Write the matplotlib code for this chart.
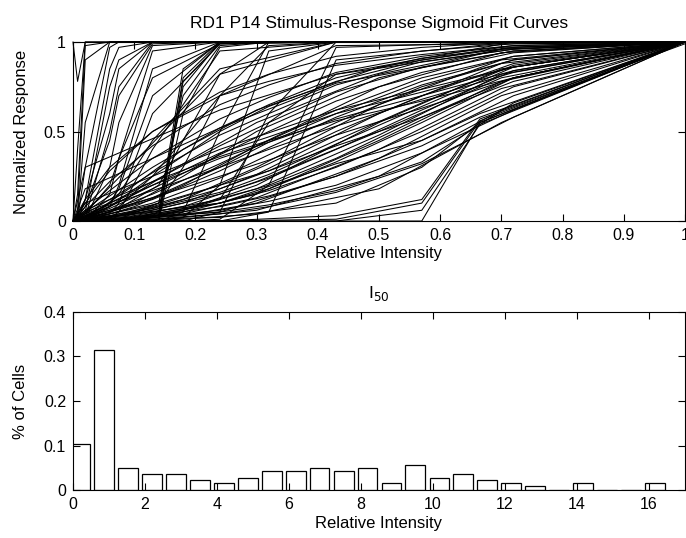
import matplotlib
matplotlib.use("Agg")
import matplotlib.pyplot as plt

plt.rcParams["font.family"] = ["Liberation Sans", "DejaVu Sans"]
plt.rcParams["font.size"] = 12

# ---- top panel: sigmoid fits evaluated at each cell's stimulus intensities ----
early_x = [0, 0.0075, 0.02, 0.06, 0.075, 0.13, 0.24, 0.43, 1.0]
early_y = [
    [1.0, 0.78, 1, 1, 1, 1, 1, 1, 1],
    [0, 0.4, 1, 1, 1, 1, 1, 1, 1],
    [0, 0.15, 0.98, 1, 1, 1, 1, 1, 1],
    [0, 0.05, 0.9, 1, 1, 1, 1, 1, 1],
    [0, 0.02, 0.55, 1, 1, 1, 1, 1, 1],
    [0, 0.01, 0.3, 0.97, 1, 1, 1, 1, 1],
    [0, 0.0, 0.12, 0.85, 0.97, 1, 1, 1, 1],
    [0, 0.0, 0.05, 0.75, 0.9, 1, 1, 1, 1],
    [0, 0.0, 0.02, 0.5, 0.75, 1, 1, 1, 1],
    [0, 0, 0.01, 0.3, 0.55, 0.98, 1, 1, 1],
    [0, 0, 0.0, 0.15, 0.35, 0.95, 1, 1, 1],
    [0, 0, 0, 0.08, 0.2, 0.85, 1, 1, 1],
    [0, 0, 0, 0.04, 0.1, 0.6, 0.99, 1, 1],
    [0, 0, 0, 0.02, 0.05, 0.4, 0.95, 1, 1],
    [0, 0, 0.0, 0.1, 0.18, 0.7, 1, 1, 1],
    [0, 0.02, 0.08, 0.45, 0.7, 0.99, 1, 1, 1],
    [0, 0.01, 0.04, 0.2, 0.35, 0.8, 0.99, 1, 1],
    [0, 0, 0.02, 0.1, 0.15, 0.45, 0.85, 1, 1],
    [0, 0, 0.01, 0.05, 0.08, 0.25, 0.7, 0.98, 1],
    [0, 0.03, 0.12, 0.6, 0.85, 1, 1, 1, 1],
]

mid_x = [0, 0.03, 0.075, 0.14, 0.18, 0.24, 0.32, 0.43, 0.72, 1.0]
mid_y = [
    [0, 0, 0, 0.0, 0.75, 1, 1, 1, 1, 1],
    [0, 0, 0, 0.02, 0.8, 1, 1, 1, 1, 1],
    [0, 0, 0, 0.05, 0.85, 1, 1, 1, 1, 1],
    [0, 0, 0.01, 0.1, 0.7, 0.98, 1, 1, 1, 1],
    [0, 0, 0, 0.0, 0.6, 0.97, 1, 1, 1, 1],
    [0, 0, 0, 0.03, 0.78, 0.99, 1, 1, 1, 1],
    [0, 0, 0, 0, 0.05, 0.5, 1, 1, 1, 1],
    [0, 0, 0, 0, 0.02, 0.2, 0.95, 1, 1, 1],
    [0, 0, 0, 0, 0, 0.05, 0.6, 1, 1, 1],
    [0, 0, 0, 0, 0, 0.01, 0.2, 0.97, 1, 1],
    [0, 0, 0, 0, 0, 0, 0.05, 0.9, 1, 1],
    [0, 0.0, 0.01, 0.03, 0.06, 0.12, 0.55, 0.82, 1, 1],
    [0, 0.02, 0.07, 0.2, 0.45, 0.82, 1, 1, 1, 1],
    [0, 0.01, 0.03, 0.1, 0.3, 0.7, 0.98, 1, 1, 1],
]

slow_x = [0, 0.02, 0.06, 0.13, 0.24, 0.32, 0.43, 0.57, 0.72, 1.0]
slow_y = [
    [0, 0.01, 0.03, 0.08, 0.2, 0.32, 0.5, 0.7, 0.88, 1.0],
    [0, 0.02, 0.06, 0.15, 0.32, 0.45, 0.62, 0.8, 0.92, 1.0],
    [0, 0.0, 0.02, 0.05, 0.12, 0.2, 0.35, 0.58, 0.8, 1.0],
    [0, 0.0, 0.01, 0.03, 0.08, 0.14, 0.25, 0.45, 0.7, 1.0],
    [0, 0.03, 0.1, 0.22, 0.42, 0.55, 0.72, 0.86, 0.95, 1.0],
    [0, 0.05, 0.14, 0.3, 0.52, 0.65, 0.8, 0.91, 0.97, 1.0],
    [0, 0.01, 0.04, 0.1, 0.24, 0.37, 0.55, 0.75, 0.9, 1.0],
    [0, 0.0, 0.0, 0.02, 0.06, 0.11, 0.2, 0.38, 0.62, 1.0],
    [0, 0.02, 0.05, 0.12, 0.28, 0.41, 0.58, 0.76, 0.9, 1.0],
    [0, 0.04, 0.12, 0.27, 0.48, 0.6, 0.76, 0.89, 0.96, 1.0],
    [0, 0.0, 0.01, 0.04, 0.1, 0.17, 0.3, 0.5, 0.75, 1.0],
    [0, 0.08, 0.22, 0.42, 0.65, 0.76, 0.88, 0.95, 0.99, 1.0],
    [0, 0.1, 0.28, 0.5, 0.72, 0.82, 0.92, 0.97, 1.0, 1.0],
    [0, 0.06, 0.17, 0.35, 0.57, 0.69, 0.83, 0.92, 0.98, 1.0],
    [0, 0.01, 0.02, 0.06, 0.15, 0.24, 0.4, 0.62, 0.84, 1.0],
    [0, 0.0, 0.01, 0.02, 0.05, 0.09, 0.17, 0.33, 0.66, 1.0],
    [0, 0.02, 0.07, 0.18, 0.37, 0.5, 0.67, 0.83, 0.94, 1.0],
    [0, 0.01, 0.05, 0.13, 0.3, 0.44, 0.6, 0.78, 0.92, 1.0],
    [0, 0.03, 0.08, 0.2, 0.38, 0.47, 0.6, 0.72, 0.86, 1.0],
    [0, 0.0, 0.02, 0.07, 0.18, 0.28, 0.45, 0.66, 0.87, 1.0],
    [0, 0.12, 0.3, 0.5, 0.7, 0.78, 0.87, 0.93, 0.98, 1.0],
    [0, 0.02, 0.04, 0.09, 0.2, 0.28, 0.42, 0.58, 0.78, 1.0],
    [0, 0.0, 0.01, 0.03, 0.1, 0.18, 0.33, 0.55, 0.8, 1.0],
    [0, 0.05, 0.1, 0.2, 0.35, 0.44, 0.57, 0.7, 0.84, 1.0],
    [0, 0.01, 0.03, 0.07, 0.16, 0.26, 0.43, 0.64, 0.86, 1.0],
    [0, 0.04, 0.09, 0.17, 0.3, 0.4, 0.53, 0.68, 0.83, 1.0],
    [0, 0.02, 0.08, 0.25, 0.5, 0.64, 0.78, 0.9, 0.97, 1.0],
    [0, 0.0, 0.0, 0.01, 0.04, 0.08, 0.16, 0.32, 0.58, 1.0],
    [0, 0.06, 0.12, 0.22, 0.36, 0.45, 0.56, 0.67, 0.8, 1.0],
    [0, 0.03, 0.06, 0.13, 0.25, 0.34, 0.48, 0.63, 0.8, 1.0],
]

slow2_x = [0, 0.04, 0.1, 0.18, 0.3, 0.5, 0.7, 1.0]
slow2_y = [
    [0, 0.0, 0.02, 0.06, 0.2, 0.55, 0.85, 1],
    [0, 0.01, 0.05, 0.12, 0.3, 0.65, 0.9, 1],
    [0, 0.0, 0.01, 0.03, 0.1, 0.35, 0.7, 1],
    [0, 0.02, 0.08, 0.2, 0.42, 0.75, 0.94, 1],
    [0, 0.0, 0.0, 0.02, 0.06, 0.25, 0.62, 1],
    [0, 0.03, 0.1, 0.25, 0.5, 0.8, 0.96, 1],
    [0, 0.01, 0.03, 0.08, 0.22, 0.5, 0.8, 1],
    [0, 0.0, 0.01, 0.05, 0.15, 0.45, 0.78, 1],
    [0, 0.05, 0.15, 0.32, 0.55, 0.82, 0.96, 1],
    [0, 0.0, 0.02, 0.04, 0.13, 0.4, 0.74, 1],
    [0, 0.02, 0.04, 0.1, 0.26, 0.6, 0.88, 1],
    [0, 0.0, 0.0, 0.01, 0.04, 0.18, 0.55, 1],
    [0, 0.06, 0.2, 0.4, 0.62, 0.86, 0.97, 1],
    [0, 0.01, 0.02, 0.07, 0.18, 0.48, 0.82, 1],
]

late_x = [0, 0.24, 0.43, 0.57, 0.665, 1.0]
late_y = [
    [0, 0, 0.0, 0.0, 0.55, 1.0],
    [0, 0, 0.01, 0.1, 0.56, 1.0],
    [0, 0, 0.03, 0.12, 0.57, 0.99],
    [0, 0.02, 0.1, 0.3, 0.55, 1.0],
    [0, 0.05, 0.25, 0.42, 0.58, 1.0],
    [0, 0, 0.0, 0.06, 0.54, 1.0],
    [0, 0.1, 0.32, 0.45, 0.6, 1.0],
]

sparse_x = [0, 0.02, 0.24, 0.43, 0.72, 1.0]
sparse_y = [
    [0, 0.18, 0.52, 0.77, 0.95, 1],
    [0, 0.1, 0.4, 0.62, 0.86, 1],
    [0, 0.3, 0.62, 0.82, 0.96, 1],
    [0, 0.05, 0.82, 1, 1, 1],
]

# ---- bottom panel: I50 histogram ----
i50_centers = [0.2, 0.87, 1.53, 2.2, 2.86, 3.53, 4.19, 4.86, 5.52, 6.19, 6.85,
               7.52, 8.18, 8.85, 9.51, 10.18, 10.84, 11.51, 12.17, 12.84, 13.5,
               14.17, 14.83, 15.5, 16.16]
i50_frac = [0.104, 0.314, 0.049, 0.037, 0.037, 0.022, 0.016, 0.028, 0.043, 0.043,
            0.049, 0.043, 0.049, 0.016, 0.056, 0.028, 0.037, 0.022, 0.016, 0.009,
            0.0, 0.016, 0.0, 0.0, 0.016]


def style_axes(ax):
    ax.tick_params(direction="in", top=True, right=True, length=5, width=0.8,
                   labelsize=11.5, pad=5)
    for spine in ax.spines.values():
        spine.set_linewidth(0.8)


fig = plt.figure(figsize=(6.86, 5.38), dpi=100)

ax1 = fig.add_axes([0.1064, 0.5892, 0.892, 0.3327])
for xs, group in [(early_x, early_y), (mid_x, mid_y), (slow_x, slow_y),
                  (slow2_x, slow2_y), (late_x, late_y), (sparse_x, sparse_y)]:
    for ys in group:
        ax1.plot(xs, ys, "-", color="black", lw=0.75, clip_on=False)
ax1.set_xlim(0, 1)
ax1.set_ylim(0, 1)
ax1.set_xticks([0, 0.1, 0.2, 0.3, 0.4, 0.5, 0.6, 0.7, 0.8, 0.9, 1])
ax1.set_xticklabels(["0", "0.1", "0.2", "0.3", "0.4", "0.5", "0.6", "0.7", "0.8", "0.9", "1"])
ax1.set_yticks([0, 0.5, 1])
ax1.set_yticklabels(["0", "0.5", "1"])
ax1.set_xlabel("Relative Intensity", labelpad=2)
ax1.set_ylabel("Normalized Response", labelpad=11)
ax1.set_title("RD1 P14 Stimulus-Response Sigmoid Fit Curves", fontsize=12.5, pad=10)
style_axes(ax1)

ax2 = fig.add_axes([0.1064, 0.0892, 0.892, 0.3309])
ax2.bar(i50_centers, i50_frac, width=0.55, facecolor="white", edgecolor="black", lw=0.9)
ax2.set_xlim(0, 17)
ax2.set_ylim(0, 0.4)
ax2.set_xticks([0, 2, 4, 6, 8, 10, 12, 14, 16])
ax2.set_yticks([0, 0.1, 0.2, 0.3, 0.4])
ax2.set_yticklabels(["0", "0.1", "0.2", "0.3", "0.4"])
ax2.set_xlabel("Relative Intensity", labelpad=3)
ax2.set_ylabel("% of Cells", labelpad=11)
ax2.set_title(r"I$_{50}$", fontsize=12.5, pad=10)
style_axes(ax2)

fig.savefig("out.png", dpi=100)
